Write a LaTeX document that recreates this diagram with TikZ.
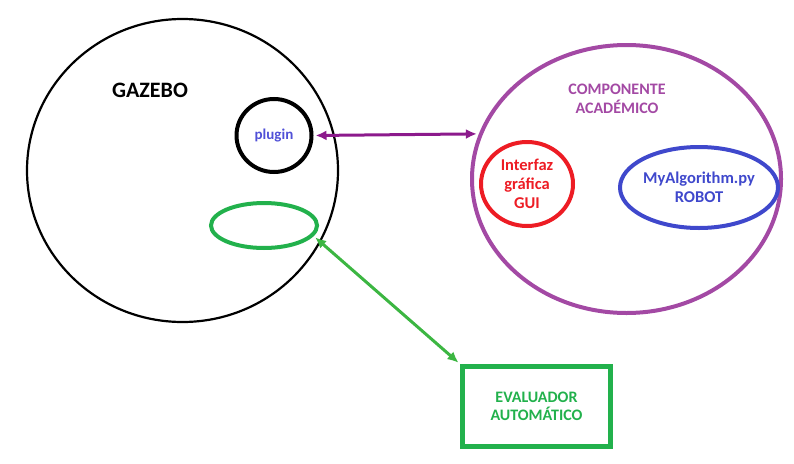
\documentclass[tikz,border=0pt]{standalone}
\usepackage{fontspec}
\setmainfont{Carlito}
\usetikzlibrary{shapes.geometric,arrows.meta}
\definecolor{compurple}{RGB}{163,73,164}
\definecolor{linkpurple}{RGB}{140,26,140}
\definecolor{guired}{RGB}{237,28,36}
\definecolor{robotblue}{RGB}{63,72,204}
\definecolor{evalgreen}{RGB}{34,177,76}
\definecolor{linkgreen}{RGB}{60,182,66}
\definecolor{pluginblue}{RGB}{80,80,215}

\begin{document}
\begin{tikzpicture}[x=1pt,y=-1pt,
		ring/.style={ellipse,draw,inner sep=0pt,align=center,font=\bfseries\fontsize{16.5}{19}\selectfont},
		link/.style={line width=3pt,shorten <=2pt,shorten >=2pt,{Latex[length=11pt,width=10pt]}-{Latex[length=11pt,width=10pt]}}]
		\useasboundingbox (0,0) rectangle (794,463);
		% gazebo
		\node[ring,line width=2.2pt,minimum width=311pt,minimum height=303pt] (gazebo) at (182.5,170.5) {};
		\node[font=\bfseries\fontsize{22}{26}\selectfont] (gazebolbl) at (150,90) {GAZEBO};
		\node[ring,line width=4pt,minimum width=75pt,minimum height=73pt,text=pluginblue,font=\bfseries\fontsize{15}{17}\selectfont] (plugin) at (274,135.5) {plugin};
		\node[ring,evalgreen,line width=4pt,minimum width=106pt,minimum height=45pt] (hook) at (264,225.5) {};
		% componente academico
		\node[ring,compurple,line width=4pt,minimum width=309pt,minimum height=268pt] (comp) at (626.5,179) {};
		\node[compurple,align=center,font=\bfseries\fontsize{16}{18.5}\selectfont] (complbl) at (617,99) {COMPONENTE\\ACADÉMICO};
		\node[ring,guired,line width=4pt,minimum width=92pt,minimum height=84pt] (gui) at (527,184) {Interfaz\\gráfica\\GUI};
		\node[ring,robotblue,line width=4pt,minimum width=154pt,minimum height=81pt] (robot) at (699,187.5) {MyAlgorithm.py\\ROBOT};
		% evaluador
		\node[draw,evalgreen,line width=5pt,minimum width=148pt,minimum height=80pt,align=center,font=\bfseries\fontsize{16}{18}\selectfont] (eval) at (536.5,406.5) {EVALUADOR\\AUTOMÁTICO};
		\draw[link,linkpurple] (plugin.east) -- (comp.163);
		\draw[link,linkgreen] (hook.-12) -- (eval.north west);
	\end{tikzpicture}
\end{document}
